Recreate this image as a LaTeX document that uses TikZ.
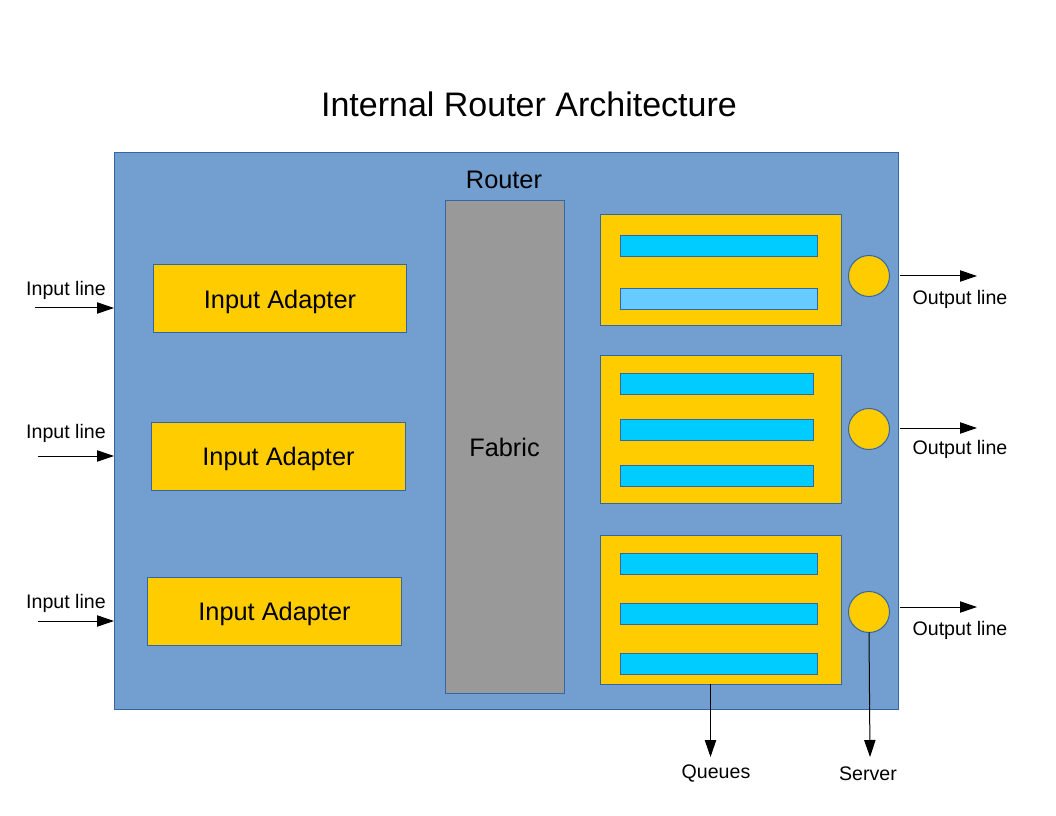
\documentclass[tikz,border=0pt]{standalone}
\usepackage{fontspec}
\setmainfont{Liberation Sans}
\usetikzlibrary{arrows.meta}
\definecolor{routerblue}{HTML}{729FCF}
\definecolor{edgeblue}{HTML}{3465A4}
\definecolor{gold}{HTML}{FFCC00}
\definecolor{qcyan}{HTML}{00CCFF}
\definecolor{qlight}{HTML}{66CCFF}
\definecolor{fabgrey}{HTML}{999999}
\tikzset{
  box/.style={draw=edgeblue, line width=0.75pt, inner sep=0pt, outer sep=0pt},
  routerbox/.style={box, fill=routerblue, minimum width=588pt, minimum height=417pt},
  adapter/.style={box, fill=gold, minimum width=190pt, minimum height=51pt, font=\fontsize{19}{22}\selectfont, text depth=0pt},
  fabricbox/.style={box, fill=fabgrey, minimum width=89.25pt, minimum height=369pt, font=\fontsize{19}{22}\selectfont},
  qbox/.style={box, fill=gold, minimum width=180.75pt},
  bar/.style={box, fill=qcyan, minimum width=147.75pt, minimum height=15.75pt},
  server/.style={box, circle, fill=gold, minimum size=30.75pt},
  lbl/.style={inner sep=0pt, font=\fontsize{14.7}{17}\selectfont, yshift=-1.5pt},
  arr/.style={line width=0.75pt, -{Triangle[length=12.75pt,width=8.5pt]}}
}
\begin{document}
\begin{tikzpicture}[x=0.75pt,y=-0.75pt]
\useasboundingbox (0,0) rectangle (1056,816);
\node[inner sep=0pt, font=\fontsize{25.5}{30}\selectfont] (title) at (529,104) {Internal Router Architecture};
\node[routerbox] (router) at (506,431) {};
\node[inner sep=0pt, font=\fontsize{19}{22}\selectfont] (rlabel) at (504,180) {Router};
% input adapters
\node[adapter] (a1) at (280,299) {Input Adapter};
\node[adapter] (a2) at (278.5,456) {Input Adapter};
\node[adapter] (a3) at (274.5,611) {Input Adapter};
% fabric
\node[fabricbox] (fabric) at (504.5,447) {Fabric};
% queue boxes
\node[qbox, minimum height=83.25pt] (q1) at (720.5,270.5) {};
\node[qbox, minimum height=110.25pt] (q2) at (720.5,429.5) {};
\node[qbox, minimum height=111.75pt] (q3) at (720.5,609.5) {};
\node[bar] (b11) at (719,246.5) {};
\node[bar, fill=qlight] (b12) at (719,299) {};
\node[bar, minimum width=144.75pt] (b21) at (716.5,384) {};
\node[bar, minimum width=144.75pt] (b22) at (716.5,429.5) {};
\node[bar, minimum width=144.75pt] (b23) at (716.5,475.5) {};
\node[bar] (b31) at (719,563.5) {};
\node[bar] (b32) at (719,613.5) {};
\node[bar] (b33) at (719,663.5) {};
% servers
\node[server] (s1) at (869,276) {};
\node[server] (s2) at (869,429) {};
\node[server] (s3) at (869,612) {};
% input lines
\coordinate (i1) at (35,308);
\coordinate (i2) at (38,456);
\coordinate (i3) at (38,621);
\draw[arr] (i1) -- (i1 -| router.west);
\draw[arr] (i2) -- (i2 -| router.west);
\draw[arr] (i3) -- (i3 -| router.west);
\node[lbl] (il1) at (66,288) {Input line};
\node[lbl] (il2) at (66,431) {Input line};
\node[lbl] (il3) at (66,601) {Input line};
% output lines
\coordinate (o1) at (977,276);
\coordinate (o2) at (977,428);
\coordinate (o3) at (977,607);
\draw[arr] (o1 -| router.east) ++(2,0) -- (o1);
\draw[arr] (o2 -| router.east) ++(2,0) -- (o2);
\draw[arr] (o3 -| router.east) ++(2,0) -- (o3);
\node[lbl] (ol1) at (960,297) {Output line};
\node[lbl] (ol2) at (960,447) {Output line};
\node[lbl] (ol3) at (960,628) {Output line};
% queues and server
\coordinate (qend) at (710.5,757);
\coordinate (send) at (870,757);
\draw[arr] (q3.south -| qend) -- (qend);
\draw[arr] (s3.south) -- (send);
\node[lbl] (ql) at (716,772) {Queues};
\node[lbl] (sl) at (868,772) {Server};
\end{tikzpicture}
\end{document}
